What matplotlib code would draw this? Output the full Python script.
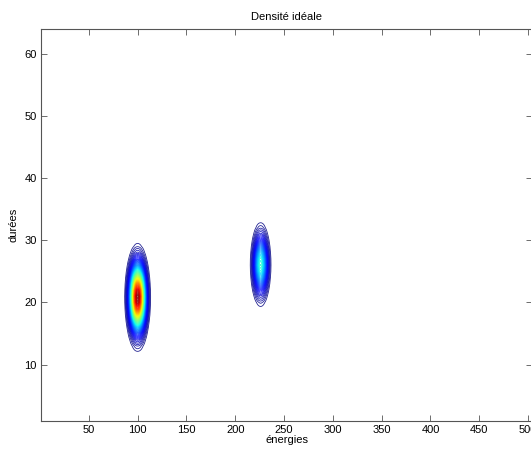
import numpy as np
import matplotlib
matplotlib.use("Agg")
import matplotlib.pyplot as plt

# Gaussian component parameters
centers_x = [100.0, 226.0]
centers_y = [20.8, 26.1]
sigmas_x = [5.0, 4.6]
sigmas_y = [3.25, 2.9]
weights = [1.0, 0.42]

x_ticks = [50, 100, 150, 200, 250, 300, 350, 400, 450, 500]
y_ticks = [10, 20, 30, 40, 50, 60]
n_levels = 75

xg = np.arange(1, 513)
yg = np.linspace(1, 64, 64)
X, Y = np.meshgrid(xg, yg)
Z = np.zeros_like(X, dtype=float)
for cx, cy, sx, sy, w in zip(centers_x, centers_y, sigmas_x, sigmas_y, weights):
    Z += w * np.exp(-0.5 * (((X - cx) / sx) ** 2 + ((Y - cy) / sy) ** 2))

plt.rcParams['font.family'] = ['Liberation Sans', 'DejaVu Sans']
fig = plt.figure(figsize=(5.31, 4.5), dpi=100)
ax = fig.add_axes([41 / 531, 1 - 420.7 / 450, (532 - 41) / 531, (420.7 - 28.7) / 450])

zmax = Z.max()
levels = np.linspace(zmax * 0.03, zmax, n_levels + 1)[:-1]
ax.contour(X, Y, Z, levels=levels, cmap='jet', linewidths=0.6,
           vmin=levels[0], vmax=zmax, alpha=0.85)

ax.set_xlim(1, 504)
ax.set_ylim(1, 64)
ax.set_xticks(x_ticks)
ax.set_yticks(y_ticks)
ax.tick_params(direction='in', top=True, right=True, length=4, width=0.6,
               labelsize=8, color='#555555', pad=3)
for s in ax.spines.values():
    s.set_color('#555555')
    s.set_linewidth(0.8)
ax.set_title('Densité idéale', fontsize=8, pad=6)
ax.set_xlabel('énergies', fontsize=8, labelpad=0)
ax.set_ylabel('durées', fontsize=8, labelpad=4)

fig.savefig('out.png', dpi=100)
